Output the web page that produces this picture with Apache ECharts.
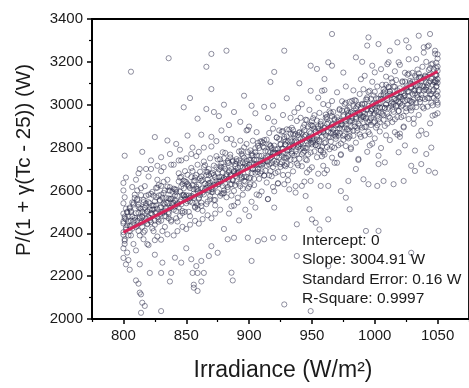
<!DOCTYPE html>
<html>
<head>
<meta charset="utf-8">
<script src="https://cdn.jsdelivr.net/npm/echarts@6/dist/echarts.min.js"></script>
<style>html,body{margin:0;padding:0;background:#fff}#c{width:469px;height:388px}</style>
</head>
<body>
<div id="c"></div>
<script>
// ---- data ----
const xTicks = [800, 850, 900, 950, 1000, 1050];
const xMinorTicks = [775, 825, 875, 925, 975, 1025, 1075];
const yTicks = [2000, 2200, 2400, 2600, 2800, 3000, 3200, 3400];
const xTitle = 'Irradiance (W/m\u00b2)';
const yTitle = 'P/(1 + \u03b3(Tc - 25)) (W)';
const fitStats = ['Intercept: 0', 'Slope: 3004.91 W', 'Standard Error: 0.16 W', 'R-Square: 0.9997'];
const fitSlope = 3004.91;       // W per kW/m2, intercept 0
const fitRange = [800, 1050];   // irradiance span of the fitted line

const bandLeft = [
[800,2285],[800,2330],[801,2372],[800,2405],[802,2428],[800,2446],[801,2470],[800,2492],[802,2515],[800,2540],[801,2568],[800,2600],[800,2635],[803,2310],[804,2455],[806,2390],[805,2520],[807,2478],[808,2350],[809,2580],[806,2432],[803,2497],[808,2540],[805,2410],[807,2616],[809,2462],[801,2350],[802,2660],[804,2275],[806,2505],
[810,2320],[813,2390],[811,2436],[817,2455],[815,2480],[819,2500],[812,2523],[816,2545],[818,2575],[814,2610],[810,2650],[813,2470],[817,2412],[811,2560],[819,2350],[815,2430],[812,2495],[818,2530],[816,2372],[814,2515],[811,2600],[819,2445],[813,2700],[817,2620],
[820,2345],[824,2410],[822,2452],[827,2478],[825,2497],[829,2520],[821,2540],[826,2568],[823,2593],[828,2625],[820,2665],[825,2440],[823,2510],[827,2385],[829,2555],[821,2470],[826,2612],[824,2530],[822,2700],[828,2465],[820,2580],[825,2368],[827,2650],[823,2488],
[830,2370],[833,2430],[836,2470],[831,2500],[838,2520],[834,2545],[839,2563],[832,2588],[837,2615],[835,2650],[830,2690],[833,2505],[838,2455],[836,2600],[831,2410],[839,2530],[834,2478],[832,2640],[837,2560],[835,2395],[830,2580],[838,2720],[833,2535],[836,2490],
[840,2390],[843,2455],[847,2495],[841,2525],[845,2548],[849,2570],[842,2592],[846,2618],[848,2645],[844,2680],[840,2720],[843,2540],[847,2430],[841,2605],[849,2500],[845,2660],[842,2470],[848,2580],[846,2555],[844,2740],[840,2510],[847,2630],[843,2410],[849,2690],
[850,2420],[853,2480],[857,2520],[851,2550],[855,2572],[859,2596],[852,2618],[856,2645],[858,2672],[854,2705],[850,2750],[853,2565],[857,2458],[851,2630],[859,2530],[855,2690],[852,2500],[858,2608],[856,2585],[854,2770],[850,2540],[857,2660],[853,2440],[859,2720],
[860,2445],[863,2505],[867,2548],[861,2578],[865,2600],[869,2622],[862,2645],[866,2672],[868,2700],[864,2735],[860,2780],[863,2590],[867,2484],[861,2656],[869,2558],[865,2718],[862,2528],[868,2634],[866,2612],[864,2800],[860,2566],[867,2686],[863,2466],[869,2750],
[870,2470],[873,2530],[877,2575],[871,2605],[875,2628],[879,2650],[872,2672],[876,2698],[878,2726],[874,2760],[870,2805],[873,2618],[877,2510],[871,2682],[879,2585],[875,2745],[872,2555],[878,2662],[876,2640],[874,2830],[870,2592],[877,2712],[873,2492],[879,2778]
];

const bandRight = [
[884,2492],[888,2529],[882,2568],[886,2576],[880,2600],[883,2603],[889,2625],[885,2628],[881,2652],[887,2651],[886,2672],[882,2666],[888,2686],[884,2685],[880,2711],[889,2713],[883,2738],[887,2740],[885,2767],[881,2775],[888,2814],[882,2841],[886,2526],[884,2728],
[897,2510],[891,2566],[895,2580],[899,2610],[893,2620],[896,2645],[890,2642],[894,2663],[898,2662],[892,2685],[891,2686],[895,2708],[899,2707],[893,2727],[897,2725],[890,2746],[896,2753],[892,2782],[894,2786],[898,2817],[893,2832],[899,2883],[891,2544],[895,2761],
[902,2547],[906,2581],[900,2617],[904,2625],[908,2654],[901,2659],[905,2683],[909,2680],[903,2699],[907,2698],[909,2721],[904,2723],[900,2743],[906,2742],[902,2762],[908,2762],[901,2787],[905,2797],[907,2822],[903,2832],[906,2872],[900,2898],[908,2577],[902,2772],
[915,2559],[919,2616],[914,2637],[918,2666],[912,2669],[917,2690],[913,2692],[910,2718],[916,2721],[911,2739],[914,2736],[918,2756],[913,2753],[919,2778],[915,2781],[911,2804],[917,2806],[910,2828],[912,2835],[916,2868],[919,2888],[915,2938],[910,2595],[917,2809],
[920,2596],[923,2632],[927,2672],[921,2681],[925,2710],[929,2713],[922,2733],[926,2731],[928,2753],[924,2754],[920,2777],[923,2776],[927,2795],[921,2792],[929,2813],[925,2817],[922,2846],[928,2849],[926,2874],[924,2880],[920,2921],[927,2952],[923,2634],[929,2828],
[937,2620],[931,2673],[935,2689],[939,2717],[933,2718],[936,2744],[930,2751],[934,2772],[938,2770],[932,2789],[931,2787],[935,2810],[939,2813],[933,2834],[937,2832],[930,2852],[936,2856],[932,2884],[934,2892],[938,2924],[933,2939],[939,2985],[931,2647],[935,2863],
[944,2641],[948,2697],[942,2713],[946,2741],[940,2748],[943,2776],[949,2777],[945,2798],[941,2795],[947,2814],[946,2829],[942,2827],[948,2851],[944,2851],[940,2869],[949,2867],[943,2894],[947,2899],[945,2930],[941,2939],[948,2976],[942,3002],[946,2684],[944,2880],
[955,2678],[959,2715],[954,2755],[958,2759],[952,2782],[957,2786],[953,2811],[950,2815],[956,2837],[951,2832],[954,2851],[958,2851],[953,2874],[959,2875],[955,2899],[951,2900],[957,2921],[950,2923],[952,2951],[956,2962],[959,3003],[955,3033],[950,2708],[957,2903],
[962,2695],[966,2753],[960,2767],[964,2792],[968,2799],[961,2825],[965,2828],[969,2852],[963,2852],[967,2870],[969,2869],[964,2892],[960,2890],[966,2908],[962,2910],[968,2935],[961,2940],[965,2962],[967,2966],[963,2998],[966,3017],[960,3068],[968,2729],[962,2943],
[970,2729],[973,2769],[977,2807],[971,2811],[975,2836],[979,2843],[972,2866],[976,2862],[978,2886],[974,2888],[970,2907],[973,2903],[977,2923],[971,2927],[979,2951],[975,2952],[972,2975],[978,2977],[976,3003],[974,3016],[970,3058],[977,3085],[973,2765],[979,2962],
[987,2742],[981,2800],[985,2823],[989,2850],[983,2855],[986,2879],[980,2878],[984,2899],[988,2903],[982,2926],[981,2924],[985,2943],[989,2939],[983,2962],[987,2963],[980,2986],[986,2992],[982,3018],[984,3022],[988,3050],[983,3067],[989,3119],[981,2793],[985,2984],
[994,2780],[998,2818],[992,2856],[996,2862],[990,2893],[993,2897],[999,2917],[995,2917],[991,2944],[997,2940],[996,2957],[992,2958],[998,2979],[994,2978],[990,3004],[999,3006],[993,3025],[997,3028],[995,3060],[991,3072],[998,3107],[992,3135],[996,2810],[994,3024],
[1005,2798],[1009,2857],[1004,2875],[1008,2901],[1002,2904],[1007,2930],[1003,2932],[1000,2958],[1006,2957],[1001,2973],[1004,2987],[1008,2985],[1003,3004],[1009,3003],[1005,3028],[1001,3030],[1007,3056],[1000,3060],[1002,3085],[1006,3093],[1009,3131],[1005,3166],[1000,2843],[1007,3046],
[1012,2835],[1016,2872],[1010,2912],[1014,2919],[1018,2943],[1011,2945],[1015,2967],[1019,2971],[1013,2994],[1017,2994],[1019,3014],[1014,3012],[1010,3032],[1016,3028],[1012,3051],[1018,3055],[1011,3081],[1015,3085],[1017,3115],[1013,3123],[1016,3156],[1010,3189],[1018,2860],[1012,3063],
[1020,2865],[1023,2898],[1027,2933],[1021,2942],[1025,2969],[1029,2973],[1022,2999],[1026,3000],[1028,3019],[1024,3016],[1020,3037],[1023,3041],[1027,3061],[1021,3058],[1029,3078],[1025,3080],[1022,3105],[1028,3111],[1026,3140],[1024,3149],[1020,3186],[1027,3212],[1023,2894],[1029,3098],
[1037,2879],[1031,2935],[1035,2952],[1039,2983],[1033,2989],[1036,3012],[1030,3013],[1034,3034],[1038,3032],[1032,3052],[1031,3065],[1035,3062],[1039,3083],[1033,3087],[1037,3108],[1030,3108],[1036,3130],[1032,3136],[1034,3164],[1038,3177],[1033,3213],[1039,3243],[1031,2911],[1035,3126],
[1044,2913],[1048,2953],[1042,2991],[1046,2997],[1040,3026],[1043,3030],[1049,3049],[1045,3050],[1041,3070],[1047,3071],[1046,3093],[1042,3092],[1048,3112],[1044,3109],[1040,3131],[1049,3137],[1043,3162],[1047,3165],[1045,3188],[1041,3200],[1048,3238],[1042,3271],[1046,2949],[1044,3142]
];

const bandCore = [
[801,2365],[804,2390],[800,2393],[807,2422],[802,2418],[805,2434],[803,2437],[808,2457],[806,2459],[809,2472],[800,2455],[802,2466],[804,2478],[801,2478],[806,2499],[803,2500],[805,2515],[808,2534],[807,2544],[809,2565],
[816,2404],[812,2411],[819,2442],[810,2430],[814,2449],[818,2468],[811,2458],[815,2475],[813,2477],[817,2493],[819,2504],[815,2500],[810,2494],[817,2519],[813,2517],[818,2539],[812,2533],[816,2555],[811,2555],[814,2578],
[823,2423],[828,2454],[825,2459],[821,2460],[829,2489],[820,2474],[826,2498],[822,2494],[827,2514],[824,2512],[821,2511],[826,2530],[823,2529],[829,2551],[825,2549],[820,2545],[828,2576],[824,2576],[822,2584],[827,2613],
[838,2462],[830,2459],[833,2480],[836,2499],[831,2495],[837,2518],[834,2518],[839,2538],[830,2522],[835,2541],[832,2539],[838,2561],[836,2563],[834,2564],[831,2565],[839,2594],[837,2599],[833,2600],[835,2618],[830,2621],
[845,2481],[847,2504],[842,2504],[844,2520],[846,2535],[843,2535],[849,2558],[840,2542],[841,2552],[848,2576],[847,2579],[843,2575],[841,2577],[845,2594],[848,2610],[842,2603],[840,2608],[849,2642],[844,2642],[846,2664],
[851,2673],[854,2662],[850,2639],[857,2646],[852,2624],[855,2624],[853,2611],[858,2617],[856,2605],[859,2606],[850,2577],[852,2576],[854,2574],[851,2560],[856,2565],[853,2548],[855,2543],[858,2540],[857,2524],[859,2513],
[866,2536],[862,2543],[869,2574],[860,2562],[864,2581],[868,2600],[861,2590],[865,2607],[863,2609],[867,2625],[869,2636],[865,2632],[860,2626],[867,2651],[863,2649],[868,2671],[862,2665],[866,2687],[861,2687],[864,2710],
[873,2555],[878,2586],[875,2591],[871,2592],[879,2621],[870,2606],[876,2630],[872,2626],[877,2646],[874,2644],[871,2643],[876,2662],[873,2661],[879,2683],[875,2681],[870,2677],[878,2708],[874,2708],[872,2716],[877,2745],
[888,2598],[880,2588],[883,2616],[886,2628],[881,2631],[887,2647],[884,2654],[889,2667],[880,2658],[885,2670],[882,2675],[888,2690],[886,2699],[884,2693],[881,2701],[889,2723],[887,2735],[883,2729],[885,2754],[880,2750],
[895,2609],[897,2641],[892,2632],[894,2657],[896,2663],[893,2672],[899,2686],[890,2679],[891,2680],[898,2713],[897,2707],[893,2712],[891,2705],[895,2731],[898,2738],[892,2740],[890,2736],[899,2779],[894,2770],[896,2801],
[901,2629],[904,2654],[900,2657],[907,2686],[902,2682],[905,2698],[903,2701],[908,2721],[906,2723],[909,2736],[900,2719],[902,2730],[904,2742],[901,2742],[906,2763],[903,2764],[905,2779],[908,2798],[907,2808],[909,2829],
[916,2671],[912,2670],[919,2709],[910,2689],[914,2716],[918,2727],[911,2725],[915,2734],[913,2744],[917,2752],[919,2771],[915,2759],[910,2761],[917,2778],[913,2784],[918,2798],[912,2800],[916,2814],[911,2822],[914,2837],
[923,2687],[928,2718],[925,2723],[921,2724],[929,2753],[920,2738],[926,2762],[922,2758],[927,2778],[924,2776],[921,2775],[926,2794],[923,2793],[929,2815],[925,2813],[920,2809],[928,2840],[924,2840],[922,2848],[927,2877],
[938,2726],[930,2723],[933,2744],[936,2763],[931,2759],[937,2782],[934,2782],[939,2802],[930,2786],[935,2805],[932,2803],[938,2825],[936,2827],[934,2828],[931,2829],[939,2858],[937,2863],[933,2864],[935,2882],[930,2885],
[945,2745],[947,2768],[942,2768],[944,2784],[946,2799],[943,2799],[949,2822],[940,2806],[941,2816],[948,2840],[947,2843],[943,2839],[941,2841],[945,2858],[948,2874],[942,2867],[940,2872],[949,2906],[944,2906],[946,2928],
[951,2937],[954,2926],[950,2903],[957,2910],[952,2888],[955,2888],[953,2875],[958,2881],[956,2869],[959,2870],[950,2841],[952,2840],[954,2838],[951,2824],[956,2829],[953,2812],[955,2807],[958,2804],[957,2788],[959,2777],
[966,2803],[962,2802],[969,2841],[960,2821],[964,2848],[968,2859],[961,2857],[965,2866],[963,2876],[967,2884],[969,2903],[965,2891],[960,2893],[967,2910],[963,2916],[968,2930],[962,2932],[966,2946],[961,2954],[964,2969],
[973,2819],[978,2850],[975,2855],[971,2856],[979,2885],[970,2870],[976,2894],[972,2890],[977,2910],[974,2908],[971,2907],[976,2926],[973,2925],[979,2947],[975,2945],[970,2941],[978,2972],[974,2972],[972,2980],[977,3009],
[988,2862],[980,2852],[983,2880],[986,2892],[981,2895],[987,2911],[984,2918],[989,2931],[980,2922],[985,2934],[982,2939],[988,2954],[986,2963],[984,2957],[981,2965],[989,2987],[987,2999],[983,2993],[985,3018],[980,3014],
[995,2873],[997,2905],[992,2896],[994,2921],[996,2927],[993,2936],[999,2950],[990,2943],[991,2944],[998,2977],[997,2971],[993,2976],[991,2969],[995,2995],[998,3002],[992,3004],[990,3000],[999,3043],[994,3034],[996,3065],
[1001,2893],[1004,2918],[1000,2921],[1007,2950],[1002,2946],[1005,2962],[1003,2965],[1008,2985],[1006,2987],[1009,3000],[1000,2983],[1002,2994],[1004,3006],[1001,3006],[1006,3027],[1003,3028],[1005,3043],[1008,3062],[1007,3072],[1009,3093],
[1016,2932],[1012,2939],[1019,2970],[1010,2958],[1014,2977],[1018,2996],[1011,2986],[1015,3003],[1013,3005],[1017,3021],[1019,3032],[1015,3028],[1010,3022],[1017,3047],[1013,3045],[1018,3067],[1012,3061],[1016,3083],[1011,3083],[1014,3106],
[1023,2948],[1028,2986],[1025,2984],[1021,2992],[1029,3014],[1020,3006],[1026,3023],[1022,3026],[1027,3039],[1024,3044],[1021,3036],[1026,3062],[1023,3054],[1029,3083],[1025,3074],[1020,3077],[1028,3101],[1024,3108],[1022,3109],[1027,3145],
[1038,2990],[1030,2987],[1033,3008],[1036,3027],[1031,3023],[1037,3046],[1034,3046],[1039,3066],[1030,3050],[1035,3069],[1032,3067],[1038,3089],[1036,3091],[1034,3092],[1031,3093],[1039,3122],[1037,3127],[1033,3128],[1035,3146],[1030,3149],
[1045,3009],[1047,3032],[1042,3032],[1044,3048],[1046,3063],[1043,3063],[1049,3086],[1040,3070],[1041,3080],[1048,3104],[1047,3107],[1043,3103],[1041,3105],[1045,3122],[1048,3138],[1042,3131],[1040,3136],[1049,3170],[1044,3170],[1046,3192]
];

const edgeColumn = [
[1050,2960],[1050,3000],[1049,3022],[1050,3040],[1050,3062],[1049,3085],[1050,3102],[1050,3120],[1049,3140],[1050,3158],[1050,3178],[1049,3196],[1050,3215],[1050,3235],[1050,3010],[1049,3110]
];

const outliersHigh = [
[806,3154],[836,3217],[870,3237],[882,3252],[866,3177],[870,3073],[853,3031],[848,2988],[866,2980],[859,2935],[872,2966],[876,2947],[888,2966],[896,3042],[917,3106],[920,3153],[919,2996],[851,2856],[825,2849],[835,2833],[842,2817],[801,2762],[830,2755],[837,2770],[827,2715],[832,2708],
[845,2790],[855,2800],[862,2860],[878,2880],[884,2905],[893,2920],[905,2960],[912,2990],[898,2880],[886,2840],[870,2850],[858,2760],[846,2740],[818,2700],[812,2680],[822,2740],[880,3000],[902,2995],[815,2780],
[966,3330],[995,3314],[994,3276],[1003,3283],[1012,3252],[1018,3291],[1027,3268],[1035,3322],[1044,3330],[1043,3276],[1048,3252],[1039,3268],[928,3252],[985,3221],[949,3182],[954,3167],[963,3198],[966,3182],[1011,3198],[1019,3198],[998,3182],[1000,3151],[936,2965],[958,3065],[949,3065],[940,3100],[975,3150],[990,3200],[960,3120],[930,3030],[1025,3300]
];

const outliersLow = [
[1035,2856],[1041,2863],[1024,2810],[1019,2778],[1032,2786],[1041,2770],[1003,2762],[987,2747],[1003,2723],[1008,2731],[1029,2715],[1037,2723],[942,2621],[949,2644],[957,2621],[963,2621],[973,2597],[977,2566],[979,2644],[991,2652],[995,2629],[1002,2621],[1007,2644],[1015,2629],[1023,2644],[1032,2691],[1043,2691],[1048,2683],[928,2629],[932,2605],[937,2590],[945,2574],[948,2512],[950,2465],[938,2442],[953,2449],[963,2465],[956,2418],[980,2512],[993,2411],[928,2379],[938,2294],[928,2068],[963,2247],[949,2037],[1003,2411],[1029,2309],[1045,2800],[1020,2850],[985,2700],[960,2680],[915,2560],[905,2520],[920,2520],[900,2480],
[802,2255],[813,2255],[831,2263],[841,2286],[846,2263],[854,2279],[858,2247],[862,2271],[868,2294],[875,2309],[883,2372],[888,2379],[899,2379],[907,2364],[912,2372],[919,2379],[830,2215],[838,2215],[855,2215],[859,2215],[864,2215],[821,2215],[810,2180],[812,2165],[837,2175],[856,2160],[862,2175],[887,2180],[813,2123],[814,2115],[856,2146],[815,2076],[817,2061],[859,2131],[814,2029],[830,2037],[902,2271],[886,2216],[870,2340],[880,2420],[892,2460],[850,2330],[825,2300],[805,2230]
];

// ---- chart ----
const points = [].concat(bandLeft, bandRight, bandCore, edgeColumn, outliersHigh, outliersLow);
const fitLine = fitRange.map(x => [x, fitSlope * x / 1000]);
const FONT = '"Liberation Sans", Arial, sans-serif';
const INK = '#1b1b1b';
const plain = v => String(v);

const chart = echarts.init(document.getElementById('c'), null, {renderer: 'canvas'});
chart.setOption({
  animation: false,
  backgroundColor: '#fff',
  grid: {left: 92, top: 19, width: 380, height: 300, show: true, borderColor: '#000', borderWidth: 1.8, backgroundColor: 'transparent'},
  xAxis: [{
    type: 'value', min: 775, max: 1075,
    axisLine: {show: true, onZero: false, lineStyle: {color: '#000', width: 1.8}},
    axisTick: {show: true, inside: false, length: 5, customValues: xTicks, lineStyle: {color: '#000', width: 1.5}},
    axisLabel: {customValues: xTicks, formatter: plain, margin: 9, color: INK, fontSize: 15, fontFamily: FONT},
    splitLine: {show: false}
  }, {
    type: 'value', min: 775, max: 1075, position: 'bottom', gridIndex: 0,
    axisLine: {show: false},
    axisTick: {show: true, inside: false, length: 3, customValues: xMinorTicks, lineStyle: {color: '#000', width: 1.2}},
    axisLabel: {show: false},
    splitLine: {show: false}
  }],
  yAxis: [{
    type: 'value', min: yTicks[0], max: yTicks[yTicks.length - 1], interval: 200,
    axisLine: {show: true, onZero: false, lineStyle: {color: '#000', width: 1.8}},
    axisTick: {show: true, inside: false, length: 5, lineStyle: {color: '#000', width: 1.5}},
    minorTick: {show: true, splitNumber: 2, length: 3, lineStyle: {color: '#000', width: 1.2}},
    axisLabel: {formatter: plain, margin: 9, color: INK, fontSize: 15, fontFamily: FONT},
    splitLine: {show: false}
  }],
  series: [{
    type: 'scatter', xAxisIndex: 0, yAxisIndex: 0,
    data: points, symbol: 'circle', symbolSize: 5.2,
    itemStyle: {color: 'rgba(255,255,255,0)', borderColor: 'rgba(45,45,75,0.82)', borderWidth: 0.8},
    emphasis: {disabled: true}, z: 2
  }, {
    type: 'line', xAxisIndex: 0, yAxisIndex: 0,
    data: fitLine, showSymbol: false, symbol: 'none',
    lineStyle: {color: '#d6245a', width: 3}, z: 3
  }],
  graphic: [{
    type: 'text', left: 302, top: 231, z: 10,
    style: {text: fitStats.join('\n'), font: '15.5px ' + FONT, fill: INK, lineHeight: 19.4}
  }, {
    type: 'text', x: 283, y: 371, z: 10,
    style: {text: xTitle, font: '23px ' + FONT, fill: INK, align: 'center', verticalAlign: 'middle'}
  }, {
    type: 'text', x: 24, y: 160, rotation: Math.PI / 2, z: 10,
    style: {text: yTitle, font: '20.5px ' + FONT, fill: INK, align: 'center', verticalAlign: 'middle'}
  }]
});
</script>
</body>
</html>
